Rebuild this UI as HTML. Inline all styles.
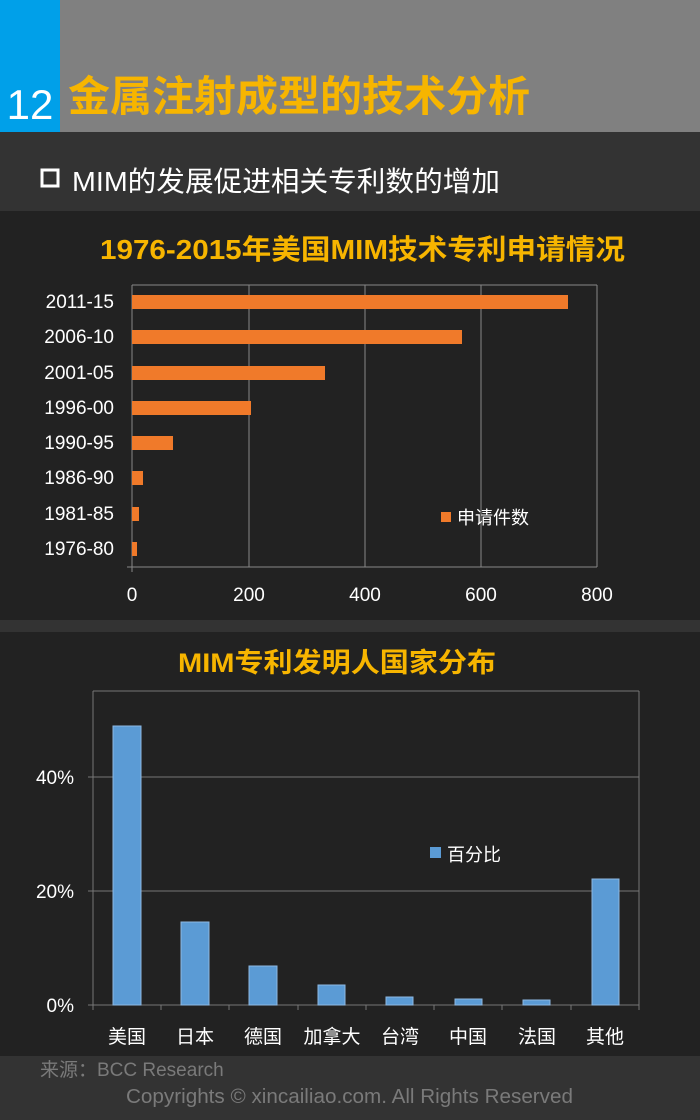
<!DOCTYPE html>
<html><head><meta charset="utf-8"><style>
body{margin:0;width:700px;height:1120px;background:#333;overflow:hidden;font-family:"Liberation Sans","Noto Sans CJK SC",sans-serif;}
</style></head><body>
<svg width="700" height="1120" xmlns="http://www.w3.org/2000/svg" style="display:block" font-family="Liberation Sans, Noto Sans CJK SC, sans-serif">
<rect x="0" y="0" width="700" height="1120" fill="#333"/>
<rect x="0" y="0" width="700" height="132" fill="#808080"/>
<rect x="0" y="0" width="60" height="132" fill="#00a0e9"/>
<text x="30" y="119" font-size="42" fill="#fff" text-anchor="middle">12</text>
<text x="68" y="111" font-size="42" font-weight="bold" fill="#f7b500" textLength="462" lengthAdjust="spacingAndGlyphs">金属注射成型的技术分析</text>
<rect x="42" y="170" width="16" height="16" fill="none" stroke="#fff" stroke-width="3"/>
<text x="72" y="191" font-size="28" fill="#fff" textLength="428" lengthAdjust="spacingAndGlyphs">MIM的发展促进相关专利数的增加</text>
<rect x="0" y="211" width="700" height="409" fill="#222"/>
<text x="100" y="259" font-size="28" font-weight="bold" fill="#f7b500" textLength="525" lengthAdjust="spacingAndGlyphs">1976-2015年美国MIM技术专利申请情况</text>
<g stroke="#888" stroke-width="1">
<line x1="132" y1="285" x2="597" y2="285"/>
<line x1="249" y1="285" x2="249" y2="567"/><line x1="365" y1="285" x2="365" y2="567"/><line x1="481" y1="285" x2="481" y2="567"/><line x1="597" y1="285" x2="597" y2="567"/>
<line x1="132" y1="285" x2="132" y2="572"/><line x1="127" y1="567" x2="597" y2="567"/>
</g>
<g fill="#f07a2a">
<rect x="132" y="295" width="436" height="14"/>
<rect x="132" y="330" width="330" height="14"/>
<rect x="132" y="366" width="193" height="14"/>
<rect x="132" y="401" width="119" height="14"/>
<rect x="132" y="436" width="41" height="14"/>
<rect x="132" y="471" width="11" height="14"/>
<rect x="132" y="507" width="7" height="14"/>
<rect x="132" y="542" width="5" height="14"/>
</g>
<g font-size="19" fill="#fff" text-anchor="end">
<text x="114" y="308">2011-15</text><text x="114" y="343">2006-10</text><text x="114" y="379">2001-05</text><text x="114" y="414">1996-00</text><text x="114" y="449">1990-95</text><text x="114" y="484">1986-90</text><text x="114" y="520">1981-85</text><text x="114" y="555">1976-80</text>
</g>
<g font-size="19" fill="#fff" text-anchor="middle">
<text x="132" y="601">0</text><text x="249" y="601">200</text><text x="365" y="601">400</text><text x="481" y="601">600</text><text x="597" y="601">800</text>
</g>
<rect x="441" y="512" width="10" height="10" fill="#f07a2a"/>
<text x="457" y="524" font-size="18" fill="#fff">申请件数</text>
<rect x="0" y="632" width="700" height="424" fill="#222"/>
<text x="178" y="672" font-size="27" font-weight="bold" fill="#f7b500" textLength="318" lengthAdjust="spacingAndGlyphs">MIM专利发明人国家分布</text>
<g stroke="#777" stroke-width="1">
<line x1="93" y1="691" x2="639" y2="691"/><line x1="639" y1="691" x2="639" y2="1005"/>
<line x1="93" y1="691" x2="93" y2="1005"/>
<line x1="88" y1="777" x2="639" y2="777"/><line x1="88" y1="891" x2="639" y2="891"/><line x1="88" y1="1005" x2="639" y2="1005"/>
<line x1="161" y1="1005" x2="161" y2="1010"/><line x1="229" y1="1005" x2="229" y2="1010"/><line x1="298" y1="1005" x2="298" y2="1010"/><line x1="366" y1="1005" x2="366" y2="1010"/><line x1="434" y1="1005" x2="434" y2="1010"/><line x1="502" y1="1005" x2="502" y2="1010"/><line x1="571" y1="1005" x2="571" y2="1010"/><line x1="93" y1="1005" x2="93" y2="1010"/><line x1="639" y1="1005" x2="639" y2="1010"/>
</g>
<g fill="#5b9bd5" stroke="#8db8e2" stroke-width="1">
<rect x="113" y="726" width="28" height="279"/>
<rect x="181" y="922" width="28" height="83"/>
<rect x="249" y="966" width="28" height="39"/>
<rect x="318" y="985" width="27" height="20"/>
<rect x="386" y="997" width="27" height="8"/>
<rect x="455" y="999" width="27" height="6"/>
<rect x="523" y="1000" width="27" height="5"/>
<rect x="592" y="879" width="27" height="126"/>
</g>
<g font-size="19" fill="#fff" text-anchor="end">
<text x="74" y="784">40%</text><text x="74" y="898">20%</text><text x="74" y="1012">0%</text>
</g>
<g font-size="19" fill="#fff" text-anchor="middle">
<text x="127" y="1043">美国</text><text x="195" y="1043">日本</text><text x="263" y="1043">德国</text><text x="332" y="1043">加拿大</text><text x="400" y="1043">台湾</text><text x="468" y="1043">中国</text><text x="537" y="1043">法国</text><text x="605" y="1043">其他</text>
</g>
<rect x="430" y="847" width="11" height="11" fill="#5b9bd5"/>
<text x="447" y="861" font-size="18" fill="#fff">百分比</text>
<text x="40" y="1076" font-size="19" fill="#7a7a7a">来源：BCC Research</text>
<text x="126" y="1103" font-size="20" fill="#7a7a7a" textLength="447" lengthAdjust="spacingAndGlyphs">Copyrights © xincailiao.com. All Rights Reserved</text>
</svg>
</body></html>
